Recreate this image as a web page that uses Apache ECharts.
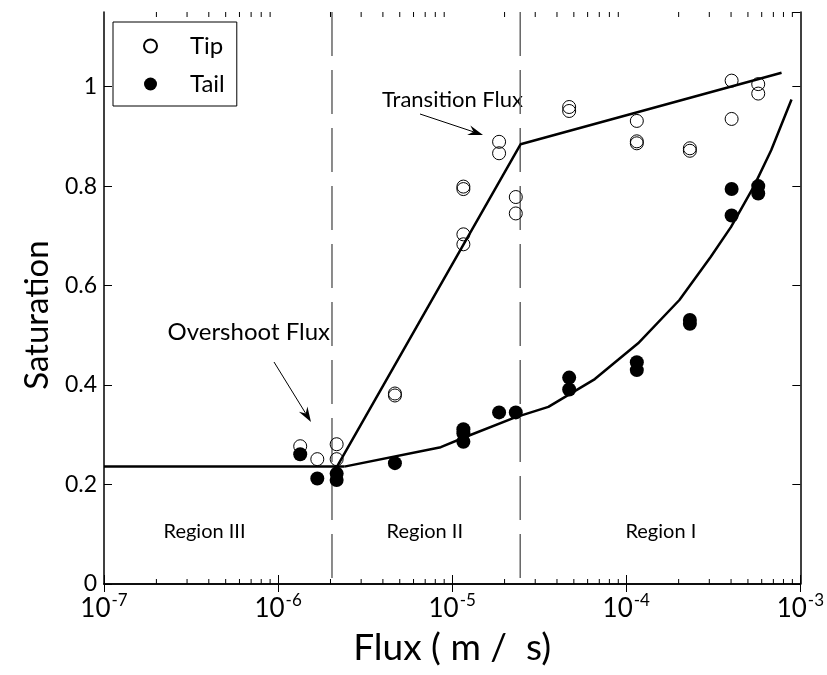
<!DOCTYPE html>
<html><head><meta charset="utf-8">
<script src="https://cdn.jsdelivr.net/npm/echarts@6/dist/echarts.min.js"></script>
<style>html,body{margin:0;padding:0;background:#fff}#c{width:827px;height:675px}</style>
</head><body><div id="c"></div>
<script>
// ---- data ----
const tipFlux = [1.34e-6, 1.68e-6, 2.17e-6, 2.17e-6, 4.69e-6, 4.69e-6,
  1.16e-5, 1.16e-5, 1.16e-5, 1.16e-5, 1.86e-5, 1.86e-5, 2.32e-5, 2.32e-5,
  4.70e-5, 4.70e-5, 1.15e-4, 1.15e-4, 1.15e-4, 2.32e-4, 2.32e-4, 4.03e-4, 4.03e-4, 5.73e-4, 5.73e-4];
const tipSat = [0.277, 0.251, 0.281, 0.251, 0.383, 0.379,
  0.703, 0.683, 0.799, 0.794, 0.889, 0.866, 0.778, 0.745,
  0.959, 0.951, 0.931, 0.890, 0.886, 0.876, 0.871, 1.012, 0.935, 1.005, 0.986];
const tailFlux = [1.34e-6, 1.68e-6, 2.17e-6, 2.17e-6, 4.69e-6, 1.16e-5, 1.16e-5, 1.16e-5,
  1.86e-5, 2.32e-5, 4.70e-5, 4.70e-5, 1.15e-4, 1.15e-4, 2.32e-4, 2.32e-4, 4.03e-4, 4.03e-4, 5.73e-4, 5.73e-4];
const tailSat = [0.261, 0.212, 0.222, 0.209, 0.243, 0.311, 0.303, 0.286,
  0.345, 0.345, 0.415, 0.391, 0.446, 0.430, 0.531, 0.523, 0.794, 0.741, 0.800, 0.785];
const baseFlux = [1e-7, 2.4e-6];
const baseSat = [0.236, 0.236];
const tipFitFlux = [2.18e-6, 2.47e-5, 7.8e-4];
const tipFitSat = [0.236, 0.884, 1.028];
const tailFitFlux = [2.4e-6, 8.6e-6, 1.2e-5, 2.3e-5, 3.57e-5, 6.6e-5, 1.17e-4, 2.02e-4, 3.06e-4, 4.0e-4, 5.4e-4, 6.8e-4, 8.9e-4];
const tailFitSat = [0.236, 0.275, 0.296, 0.335, 0.356, 0.412, 0.484, 0.571, 0.658, 0.718, 0.799, 0.872, 0.974];
const regionBounds = [2.04e-6, 2.46e-5];
const regionNames = ['Region III', 'Region II', 'Region I'];
const regionLabelFlux = [3.78e-7, 6.96e-6, 1.58e-4];
const regionLabelSat = [0.105, 0.105, 0.105];
const decadeExps = [-7, -6, -5, -4];
const minorMultiples = [2, 3, 4, 5, 6, 7, 8, 9];

// ---- chart ----
const FONT = 'Lato';
const YMAX = 1.15;
const zip = (a, b) => a.map((v, i) => [v, b[i]]);
const minorVals = [];
decadeExps.forEach(e => minorMultiples.forEach(m => minorVals.push([m * Math.pow(10, e), 0])));

const chart = echarts.init(document.getElementById('c'));

function arrow(x1, y1, x2, y2) {
  const dx = x2 - x1, dy = y2 - y1, len = Math.hypot(dx, dy);
  const ux = dx / len, uy = dy / len, px = -uy, py = ux;
  const L = 15, W = 5, N = 10;
  const bx = x2 - ux * L, by = y2 - uy * L;
  const nx = x2 - ux * N, ny = y2 - uy * N;
  return [
    { type: 'line', shape: { x1, y1, x2: nx, y2: ny }, style: { stroke: '#000', lineWidth: 1 } },
    { type: 'polygon', shape: { points: [[x2, y2], [bx + px * W, by + py * W], [nx, ny], [bx - px * W, by - py * W]] }, style: { fill: '#000' } }
  ];
}

const tickStyle = { color: '#000', width: 1 };
const option = {
  animation: false,
  backgroundColor: '#fff',
  textStyle: { fontFamily: FONT },
  grid: { left: 104, right: 24, top: 12, bottom: 91 },
  legend: {
    data: ['Tip', 'Tail'], orient: 'vertical', left: 113, top: 22,
    padding: [12, 12, 10, 30], itemWidth: 13, itemHeight: 13, itemGap: 14,
    borderColor: '#000', borderWidth: 1, backgroundColor: '#fff',
    textStyle: { fontSize: 24, fontFamily: FONT, color: '#000', padding: [0, 0, 0, 28] }
  },
  xAxis: [{
    type: 'log', logBase: 10, min: 1e-7, max: 1e-3, interval: 1, position: 'bottom',
    axisLine: { lineStyle: { color: '#000', width: 1.5 } },
    axisTick: { inside: true, length: 9, lineStyle: tickStyle },
    splitLine: { show: false },
    axisLabel: {
      margin: 8, color: '#000',
      formatter: v => '{b|10}{s|' + Math.round(Math.log10(v)) + '}',
      rich: { b: { fontSize: 26, fontFamily: FONT, color: '#000' },
              s: { fontSize: 17, fontFamily: FONT, color: '#000', padding: [0, 0, 16, 1] } }
    },
    name: 'Flux ( m /  s)', nameLocation: 'middle', nameGap: 46,
    nameTextStyle: { fontSize: 37, fontFamily: FONT, color: '#000' }
  }, {
    type: 'log', logBase: 10, min: 1e-7, max: 1e-3, interval: 1, position: 'top',
    axisLine: { lineStyle: { color: '#000', width: 1.5 } },
    axisTick: { inside: true, length: 8, lineStyle: tickStyle },
    axisLabel: { show: false }, splitLine: { show: false }
  }],
  yAxis: [{
    type: 'value', min: 0, max: YMAX, interval: 0.2, position: 'left',
    axisLine: { show: true, lineStyle: { color: '#000', width: 1.5 } },
    axisTick: { show: true, inside: true, length: 8, lineStyle: tickStyle },
    splitLine: { show: false },
    axisLabel: {
      margin: 7, color: '#000', fontSize: 23, fontFamily: FONT, showMaxLabel: false,
      formatter: v => (v > 1.001 ? '' : String(+v.toFixed(1)))
    },
    name: 'Saturation', nameLocation: 'middle', nameGap: 46,
    nameTextStyle: { fontSize: 33, fontFamily: FONT, color: '#000', padding: [0, 34, 0, 0] }
  }, {
    type: 'value', min: 0, max: YMAX, interval: 0.2, position: 'right',
    axisLine: { show: true, lineStyle: { color: '#000', width: 1.5 } },
    axisTick: { show: true, inside: true, length: 8, lineStyle: tickStyle },
    axisLabel: { show: false }, splitLine: { show: false }
  }],
  series: [
    {
      name: 'minor', type: 'custom', xAxisIndex: 0, yAxisIndex: 0, silent: true, clip: false,
      encode: { x: 0, y: 1 }, data: minorVals,
      renderItem: (params, api) => {
        const v = api.value(0);
        const p0 = api.coord([v, 0]), p1 = api.coord([v, YMAX]);
        return { type: 'group', children: [
          { type: 'line', shape: { x1: p0[0], y1: p0[1], x2: p0[0], y2: p0[1] - 5 }, style: { stroke: '#000', lineWidth: 1 } },
          { type: 'line', shape: { x1: p1[0], y1: p1[1], x2: p1[0], y2: p1[1] + 5 }, style: { stroke: '#000', lineWidth: 1 } }
        ] };
      }
    },
    {
      name: 'bounds', type: 'custom', xAxisIndex: 0, yAxisIndex: 0, silent: true, z: 1,
      encode: { x: 0, y: 1 }, data: regionBounds.map(v => [v, 0]),
      renderItem: (params, api) => {
        const v = api.value(0);
        const p0 = api.coord([v, 0]), p1 = api.coord([v, YMAX]);
        return { type: 'line', shape: { x1: p1[0], y1: p1[1], x2: p0[0], y2: p0[1] },
          style: { stroke: '#666', lineWidth: 1.5, lineDash: [44, 14] } };
      }
    },
    {
      name: 'regions', type: 'custom', xAxisIndex: 0, yAxisIndex: 0, silent: true,
      encode: { x: 0, y: 1 }, data: zip(regionLabelFlux, regionLabelSat),
      renderItem: (params, api) => {
        const p = api.coord([api.value(0), api.value(1)]);
        return { type: 'text', x: p[0], y: p[1],
          style: { text: regionNames[params.dataIndex], fill: '#000', font: '20px ' + FONT, align: 'center', verticalAlign: 'middle' } };
      }
    },
    { name: 'base', type: 'line', data: zip(baseFlux, baseSat), symbol: 'none', lineStyle: { color: '#000', width: 2.5 }, z: 3 },
    { name: 'tipFit', type: 'line', data: zip(tipFitFlux, tipFitSat), symbol: 'none', lineStyle: { color: '#000', width: 2.5 }, z: 3 },
    { name: 'tailFit', type: 'line', data: zip(tailFitFlux, tailFitSat), symbol: 'none', lineStyle: { color: '#000', width: 2.5 }, z: 3 },
    {
      name: 'Tip', type: 'scatter', data: zip(tipFlux, tipSat), symbol: 'circle', symbolSize: 13,
      itemStyle: { color: 'rgba(255,255,255,0)', borderColor: '#000', borderWidth: 1, opacity: 1 }, z: 4
    },
    {
      name: 'Tail', type: 'scatter', data: zip(tailFlux, tailSat), symbol: 'circle', symbolSize: 14,
      itemStyle: { color: '#000', opacity: 1 }, z: 4
    }
  ],
  graphic: [
    { type: 'text', left: 382, top: 89, style: { text: 'Transition Flux', font: '22px ' + FONT, fill: '#000' } },
    { type: 'text', right: 827 - 330, top: 320, style: { text: 'Overshoot Flux', font: '24px ' + FONT, fill: '#000' } },
    ...arrow(420, 114, 483, 135),
    ...arrow(274, 362, 311, 422)
  ]
};
chart.setOption(option);
</script>
</body></html>
